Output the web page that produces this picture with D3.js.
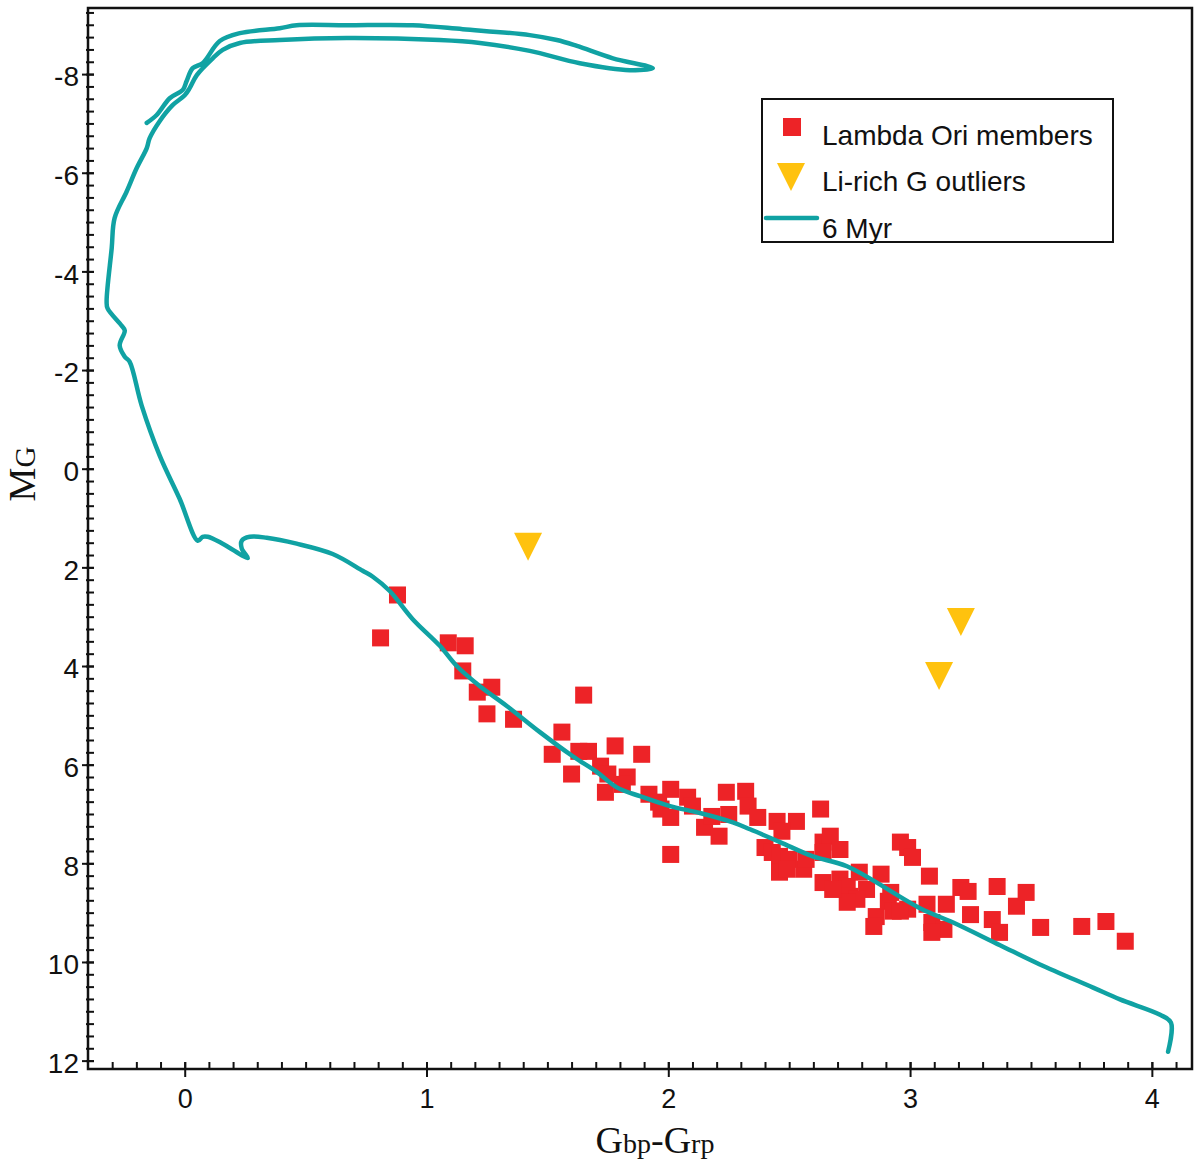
<!DOCTYPE html>
<html>
<head>
<meta charset="utf-8">
<script src="https://cdn.jsdelivr.net/npm/d3@7"></script>
<style>
  body { margin: 0; background: #fff; }
  svg { display: block; }
</style>
</head>
<body>
<svg id="chart" width="1200" height="1166"></svg>
<script>
// Lambda Ori members (Gbp-Grp, M_G)
const memberX = [0.81, 0.88, 1.09, 1.16, 1.15, 1.21, 1.27, 1.25, 1.36, 1.65,
  1.56, 1.52, 1.63, 1.67, 1.60, 1.72, 1.75, 1.78, 1.89, 1.83,
  1.81, 1.74, 1.92, 1.96, 2.01, 1.97, 2.08, 2.10, 2.01, 2.01,
  2.15, 2.21, 2.18, 2.24, 2.32, 2.33, 2.25, 2.37, 2.45, 2.53,
  2.63, 2.47, 2.40, 2.43, 2.46, 2.50, 2.46, 2.49, 2.56, 2.57,
  2.64, 2.67, 2.71, 2.64, 2.64, 2.71, 2.74, 2.79, 2.88, 2.75,
  2.82, 2.78, 2.86, 2.85, 2.91, 2.96, 2.99, 3.01, 3.08, 2.99,
  2.93, 3.07, 3.09, 3.14, 3.15, 3.21, 3.24, 3.25, 3.34, 3.37,
  3.36, 3.44, 3.48, 3.54, 3.71, 3.81, 3.89, 2.96, 3.09, 2.74,
  2.68, 2.92];
const memberY = [3.43, 2.56, 3.53, 3.59, 4.10, 4.53, 4.43, 4.97, 5.08, 4.59,
  5.34, 5.79, 5.73, 5.73, 6.19, 6.03, 6.19, 5.62, 5.79, 6.25,
  6.40, 6.56, 6.60, 6.76, 6.50, 6.90, 6.66, 6.84, 7.07, 7.82,
  7.27, 7.45, 7.05, 6.56, 6.54, 6.84, 7.01, 7.07, 7.15, 7.15,
  6.90, 7.35, 7.68, 7.78, 7.86, 7.92, 8.18, 8.12, 8.12, 7.92,
  7.57, 7.45, 7.72, 7.78, 8.39, 8.32, 8.47, 8.18, 8.22, 8.67,
  8.53, 8.73, 9.08, 9.28, 8.77, 7.57, 7.68, 7.88, 8.26, 8.93,
  8.97, 8.83, 9.20, 9.34, 8.83, 8.49, 8.57, 9.04, 9.14, 9.40,
  8.47, 8.87, 8.59, 9.30, 9.28, 9.18, 9.58, 8.97, 9.40, 8.79,
  8.53, 8.59];

// Li-rich G outliers
const outlierX = [1.42, 3.21, 3.12];
const outlierY = [1.56, 3.09, 4.18];

// 6 Myr isochrone, low mass end first
const isoX = [4.067, 4.079, 4.034, 3.868, 3.757, 3.537, 3.372, 3.178, 3.041, 2.739,
  2.598, 2.462, 2.338, 2.267, 2.131, 2.007, 1.883, 1.787, 1.705, 1.605,
  1.469, 1.332, 1.221, 1.125, 1.055, 0.943, 0.848, 0.778, 0.736, 0.612,
  0.463, 0.339, 0.269, 0.236, 0.236, 0.261, 0.157, 0.095, 0.074, 0.054,
  -0.021, -0.103, -0.178, -0.228, -0.248, -0.269, -0.248, -0.261, -0.319, -0.323,
  -0.302, -0.290, -0.240, -0.199, -0.157, -0.145, -0.103, -0.050, 0.000, 0.021,
  0.050, 0.116, 0.157, 0.228, 0.393, 0.670, 1.055, 1.221, 1.427, 1.634,
  1.841, 1.936, 1.771, 1.622, 1.539, 1.427, 1.150, 0.943, 0.670, 0.463,
  0.393, 0.228, 0.145, 0.074, 0.033, 0.008, -0.008, -0.062, -0.116, -0.157];
const isoY = [11.82, 11.23, 11.07, 10.76, 10.52, 10.05, 9.66, 9.20, 8.91, 8.06,
  7.86, 7.57, 7.31, 7.17, 6.98, 6.84, 6.64, 6.46, 6.15, 5.83,
  5.34, 4.81, 4.41, 4.00, 3.59, 3.05, 2.48, 2.19, 2.07, 1.73,
  1.52, 1.40, 1.38, 1.46, 1.62, 1.81, 1.52, 1.38, 1.38, 1.46,
  0.61, -0.26, -1.28, -2.17, -2.27, -2.50, -2.80, -2.90, -3.25, -3.39,
  -4.47, -5.08, -5.62, -6.09, -6.50, -6.70, -7.05, -7.37, -7.57, -7.72,
  -7.98, -8.32, -8.49, -8.63, -8.69, -8.73, -8.69, -8.63, -8.47, -8.22,
  -8.08, -8.12, -8.32, -8.57, -8.69, -8.79, -8.91, -8.99, -8.99, -8.99,
  -8.93, -8.83, -8.67, -8.22, -8.12, -7.86, -7.68, -7.51, -7.17, -7.01];

const xTicks = [0, 1, 2, 3, 4];
const yTicks = [-8, -6, -4, -2, 0, 2, 4, 6, 8, 10, 12];
const legendLabels = ['Lambda Ori members', 'Li-rich G outliers', '6 Myr'];

const memberColor = '#ed2327';
const outlierColor = '#ffc20e';
const isoColor = '#10a2a3';

const svg = d3.select('#chart');
const x = d3.scaleLinear().domain([-0.4, 4.166]).range([88, 1192]);
const y = d3.scaleLinear().domain([-9.34, 12.17]).range([8, 1069]);

const tickFont = '"Liberation Sans", Arial, sans-serif';

// minor ticks
const yMinor = svg.append('g').attr('transform', `translate(${x.range()[0]},0)`)
  .call(d3.axisLeft(y).tickValues(d3.range(-9.25, 12.01, 0.25)).tickFormat(''));
yMinor.select('.domain').remove();
yMinor.selectAll('.tick line').attr('x1', -2).attr('x2', 6).attr('stroke', '#111').attr('stroke-width', 2);

const xMinor = svg.append('g').attr('transform', `translate(0,${y.range()[1]})`)
  .call(d3.axisBottom(x).tickValues(d3.range(-3, 42).map(d => d / 10)).tickFormat(''));
xMinor.select('.domain').remove();
xMinor.selectAll('.tick line').attr('y1', 1).attr('y2', -7).attr('stroke', '#111').attr('stroke-width', 2);

// major ticks + labels
const yAxis = svg.append('g').attr('transform', `translate(${x.range()[0]},0)`)
  .call(d3.axisLeft(y).tickValues(yTicks).tickSize(6).tickPadding(3).tickFormat(d => String(d)));
yAxis.select('.domain').remove();
yAxis.selectAll('.tick line').attr('x1', 6).attr('x2', -6).attr('stroke', '#111').attr('stroke-width', 2);
yAxis.selectAll('text').attr('font-family', tickFont).attr('font-size', 28).attr('fill', '#111').attr('dy', '0.42em');

const xAxis = svg.append('g').attr('transform', `translate(0,${y.range()[1]})`)
  .call(d3.axisBottom(x).tickValues(xTicks).tickSize(8).tickPadding(12).tickFormat(d => String(d)));
xAxis.select('.domain').remove();
xAxis.selectAll('.tick line').attr('y1', -7).attr('y2', 8).attr('stroke', '#111').attr('stroke-width', 2);
xAxis.selectAll('text').attr('font-family', tickFont).attr('font-size', 27).attr('fill', '#111');

// frame
svg.append('rect')
  .attr('x', x.range()[0]).attr('y', y.range()[0])
  .attr('width', x.range()[1] - x.range()[0]).attr('height', y.range()[1] - y.range()[0])
  .attr('fill', 'none').attr('stroke', '#111').attr('stroke-width', 2.5);

// members
const members = memberX.map((d, i) => [d, memberY[i]]);
const sq = 17;
svg.append('g').selectAll('rect')
  .data(members)
  .join('rect')
  .attr('x', d => x(d[0]) - sq / 2)
  .attr('y', d => y(d[1]) - sq / 2)
  .attr('width', sq).attr('height', sq)
  .attr('fill', memberColor);

// isochrone
const line = d3.line()
  .x(d => x(d[0]))
  .y(d => y(d[1]))
  .curve(d3.curveCatmullRom.alpha(0.5));
svg.append('path')
  .datum(isoX.map((d, i) => [d, isoY[i]]))
  .attr('d', line)
  .attr('fill', 'none')
  .attr('stroke', isoColor)
  .attr('stroke-width', 4.5)
  .attr('stroke-linejoin', 'round')
  .attr('stroke-linecap', 'round');

// outliers: downward triangles
const tri = 'M-14,-13L14,-13L0,15Z';
svg.append('g').selectAll('path')
  .data(outlierX.map((d, i) => [d, outlierY[i]]))
  .join('path')
  .attr('transform', d => `translate(${x(d[0])},${y(d[1])})`)
  .attr('d', tri)
  .attr('fill', outlierColor);

// legend
const legend = svg.append('g');
legend.append('rect')
  .attr('x', 762).attr('y', 99).attr('width', 351).attr('height', 143)
  .attr('fill', '#fff').attr('stroke', '#111').attr('stroke-width', 2);
legend.append('rect')
  .attr('x', 783).attr('y', 118).attr('width', 18).attr('height', 18)
  .attr('fill', memberColor);
legend.append('path')
  .attr('transform', 'translate(791,176)')
  .attr('d', tri)
  .attr('fill', outlierColor);
legend.append('line')
  .attr('x1', 766).attr('x2', 817).attr('y1', 218).attr('y2', 218)
  .attr('stroke', isoColor).attr('stroke-width', 4.5).attr('stroke-linecap', 'round');
legend.selectAll('text')
  .data(legendLabels)
  .join('text')
  .attr('x', 822)
  .attr('y', (d, i) => [145, 191, 238][i])
  .attr('font-family', tickFont)
  .attr('font-size', 28)
  .attr('fill', '#111')
  .text(d => d);

// axis titles
const serif = '"Liberation Serif", "Times New Roman", serif';
const yTitle = svg.append('text')
  .attr('transform', 'translate(35,474) rotate(-90)')
  .attr('text-anchor', 'middle')
  .attr('font-family', serif)
  .attr('fill', '#111');
yTitle.append('tspan').attr('font-size', 38).text('M');
yTitle.append('tspan').attr('font-size', 29).text('G');

const xTitle = svg.append('text')
  .attr('x', 655).attr('y', 1153)
  .attr('text-anchor', 'middle')
  .attr('font-family', serif)
  .attr('fill', '#111');
xTitle.append('tspan').attr('font-size', 38).text('G');
xTitle.append('tspan').attr('font-size', 28).text('bp');
xTitle.append('tspan').attr('font-size', 38).text('-G');
xTitle.append('tspan').attr('font-size', 28).text('rp');
</script>
</body>
</html>
